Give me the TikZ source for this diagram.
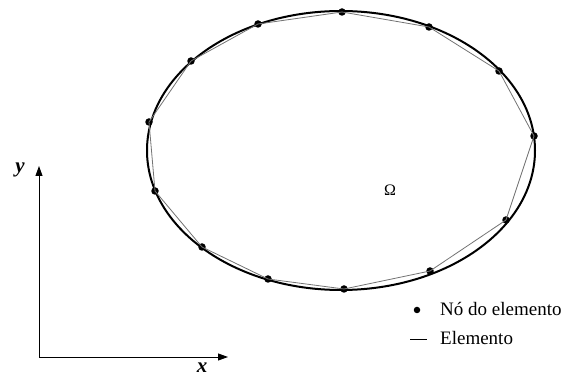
\documentclass[tikz,border=0pt]{standalone}
\usepackage{fontspec}
\setmainfont{Liberation Serif}
\usetikzlibrary{arrows.meta}
\begin{document}
\begin{tikzpicture}[x=1pt,y=-1pt,
  fenode/.style={circle,fill=black,inner sep=0pt,minimum size=7.5pt},
  elem/.style={draw=black!55,line width=0.8pt},
  boundary/.style={draw=black,line width=2pt},
  axis/.style={draw=black,line width=0.9pt,-{Triangle[length=10pt,width=7pt]}},
  lbl/.style={inner sep=0pt,font=\fontsize{19}{22}\selectfont},
  axlbl/.style={inner sep=0pt,font=\fontsize{21}{24}\selectfont\itshape\bfseries}]
\useasboundingbox (0,0) rectangle (566,379);
\draw[boundary] (341,150.5) ellipse [x radius=194, y radius=139.5];
% nodes
\node[fenode] (n1) at (342,12) {};
\node[fenode] (n2) at (429,27) {};
\node[fenode] (n3) at (499,71) {};
\node[fenode] (n4) at (534,136) {};
\node[fenode] (n5) at (506,220) {};
\node[fenode] (n6) at (430,271) {};
\node[fenode] (n7) at (344,289) {};
\node[fenode] (n8) at (268,279) {};
\node[fenode] (n9) at (202,247) {};
\node[fenode] (n10) at (155,191) {};
\node[fenode] (n11) at (149,122) {};
\node[fenode] (n12) at (191,61) {};
\node[fenode] (n13) at (258,24) {};
\foreach \a/\b in {n1/n2,n2/n3,n3/n4,n4/n5,n5/n6,n6/n7,n7/n8,n8/n9,n9/n10,n10/n11,n11/n12,n12/n13,n13/n1}
  \draw[elem] (\a.center) -- (\b.center);
\node[inner sep=0pt,font=\fontsize{16}{18}\selectfont] (omega) at (390,190) {Ω};
% axes
\coordinate (o) at (39,357);
\coordinate (ytip) at (39,166);
\coordinate (xtip) at (228,357);
\draw[axis] (o) -- (ytip);
\draw[axis] (o) -- (xtip);
\node[axlbl] (ylab) at (20,170) {y};
\node[axlbl] (xlab) at (202,368) {x};
% legend
\node[fenode,minimum size=6.5pt] (legdot) at (417,310) {};
\node[lbl,anchor=west] (legnode) at (440,309) {Nó do elemento};
\coordinate (lega) at (410,339);
\coordinate (legb) at (427,339);
\draw[black,line width=0.8pt] (lega) -- (legb);
\node[lbl,anchor=west] (legelem) at (440,338) {Elemento};
\end{tikzpicture}
\end{document}
